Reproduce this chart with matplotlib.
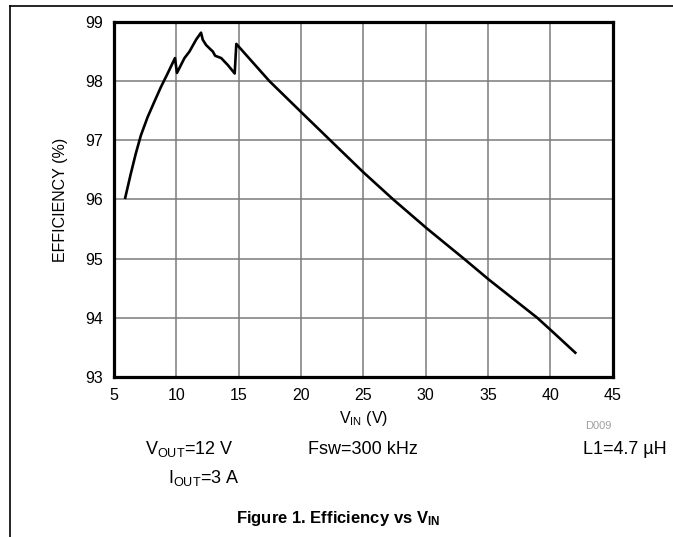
import matplotlib
matplotlib.use('Agg')
import matplotlib.pyplot as plt
from matplotlib.lines import Line2D

plt.rcParams['font.family'] = ['Liberation Sans', 'DejaVu Sans']
plt.rcParams['mathtext.fontset'] = 'custom'
plt.rcParams['mathtext.rm'] = 'Liberation Sans'
plt.rcParams['mathtext.it'] = 'Liberation Sans:italic'
plt.rcParams['mathtext.bf'] = 'Liberation Sans:bold'

# efficiency curve
vin = [5.9, 6.34, 6.74, 7.15, 7.69, 8.23, 8.76, 9.3, 9.89, 10.05, 10.65,
       11.05, 11.58, 11.98, 12.12, 12.39, 12.93, 13.11, 13.6, 14.14, 14.68,
       14.81, 17.47, 20.0, 22.35, 25.0, 27.4, 30.1, 33.06, 35.1,
       38.95, 40.15, 42.0]
eff = [96.03, 96.43, 96.77, 97.08, 97.39, 97.65, 97.9, 98.13, 98.39, 98.14,
       98.39, 98.5, 98.7, 98.82, 98.7, 98.61, 98.5, 98.43, 98.39, 98.27,
       98.13, 98.63, 98.0, 97.48, 97.0, 96.46, 96.0, 95.51, 95.0,
       94.64, 94.0, 93.77, 93.41]

x_ticks = [5, 10, 15, 20, 25, 30, 35, 40, 45]
y_ticks = [93, 94, 95, 96, 97, 98, 99]

fig = plt.figure(figsize=(6.73, 5.37), dpi=100)
ax = fig.add_axes([0.1694, 0.298, 0.741, 0.661])

ax.plot(vin, eff, color='black', lw=1.9, solid_joinstyle='round')

ax.set_xlim(5, 45)
ax.set_ylim(93, 99)
ax.set_xticks(x_ticks)
ax.set_yticks(y_ticks)
ax.grid(True, color='#7a7a7a', lw=1.1)
ax.set_axisbelow(True)
ax.tick_params(length=0, labelsize=11.5, pad=8)
for s in ax.spines.values():
    s.set_linewidth(2.3)

ax.set_xlabel(r'V$_{\mathrm{IN}}$ (V)', fontsize=11.5, labelpad=4)
ax.set_ylabel('EFFICIENCY (%)', fontsize=11.5, labelpad=12)

# notes under the plot
fig.text(598 / 673, 1 - 426 / 537, 'D009', fontsize=8, color='#a0a0a0',
         ha='center', va='center')
fig.text(145 / 673, 1 - 449 / 537, r'V$_{\mathrm{OUT}}$=12 V', fontsize=13,
         ha='left', va='center')
fig.text(308 / 673, 1 - 449 / 537, 'Fsw=300 kHz', fontsize=13,
         ha='left', va='center')
fig.text(667 / 673, 1 - 449 / 537, 'L1=4.7 µH', fontsize=13,
         ha='right', va='center')
fig.text(168 / 673, 1 - 478 / 537, r'I$_{\mathrm{OUT}}$=3 A', fontsize=13,
         ha='left', va='center')
fig.text(338 / 673, 1 - 519 / 537, r'Figure 1. Efficiency vs V$_{\mathbf{IN}}$',
         fontsize=12, fontweight='bold', ha='center', va='center')

# page frame: top and left rules
fig.add_artist(Line2D([10 / 673, 1], [1 - 6 / 537, 1 - 6 / 537],
                      color='black', lw=1.2))
fig.add_artist(Line2D([10 / 673, 10 / 673], [0, 1 - 6 / 537],
                      color='black', lw=1.2))

fig.savefig('out.png', dpi=100)
